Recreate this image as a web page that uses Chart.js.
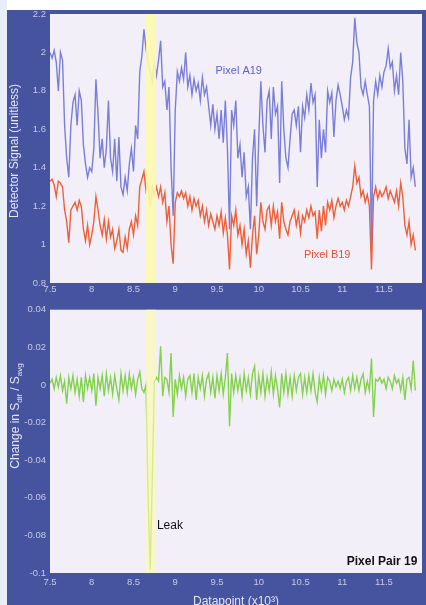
<!DOCTYPE html>
<html>
<head>
<meta charset="utf-8">
<script src="https://cdn.jsdelivr.net/npm/chart.js@4.4.1/dist/chart.umd.min.js"></script>
<style>
  html, body { margin: 0; padding: 0; background: #fff; }
  body { width: 426px; height: 605px; position: relative; overflow: hidden; }
  #edge { position: absolute; left: 0; top: 0; width: 7px; height: 605px; background: #e8eef8; }
  #frame { position: absolute; left: 7px; top: 10px; width: 419px; height: 595px; background: #46539f; }
  canvas { position: absolute; left: 0; }
  #topChart { top: 0; }
  #bottomChart { top: 300px; }
</style>
</head>
<body>
<div id="edge"></div>
<div id="frame"></div>
<canvas id="topChart" width="426" height="300"></canvas>
<canvas id="bottomChart" width="426" height="305"></canvas>
<script>
// datapoint number, in thousands
const DATAPOINTS = [
  7.5,7.525,7.55,7.575,7.6,7.625,7.65,7.675,
  7.7,7.725,7.75,7.775,7.8,7.825,7.85,7.875,
  7.9,7.925,7.95,7.975,8,8.025,8.05,8.075,
  8.1,8.125,8.15,8.175,8.2,8.225,8.25,8.275,
  8.3,8.325,8.35,8.375,8.4,8.425,8.45,8.475,
  8.5,8.525,8.55,8.575,8.6,8.625,8.65,8.675,
  8.7,8.725,8.75,8.775,8.8,8.825,8.85,8.875,
  8.9,8.925,8.95,8.975,9,9.025,9.05,9.075,
  9.1,9.125,9.15,9.175,9.2,9.225,9.25,9.275,
  9.3,9.325,9.35,9.375,9.4,9.425,9.45,9.475,
  9.5,9.525,9.55,9.575,9.6,9.625,9.65,9.675,
  9.7,9.725,9.75,9.775,9.8,9.825,9.85,9.875,
  9.9,9.925,9.95,9.975,10,10.025,10.05,10.075,
  10.1,10.125,10.15,10.175,10.2,10.225,10.25,10.275,
  10.3,10.325,10.35,10.375,10.4,10.425,10.45,10.475,
  10.5,10.525,10.55,10.575,10.6,10.625,10.65,10.675,
  10.7,10.725,10.75,10.775,10.8,10.825,10.85,10.875,
  10.9,10.925,10.95,10.975,11,11.025,11.05,11.075,
  11.1,11.125,11.15,11.175,11.2,11.225,11.25,11.275,
  11.3,11.325,11.35,11.375,11.4,11.425,11.45,11.475,
  11.5,11.525,11.55,11.575,11.6,11.625,11.65,11.675,
  11.7,11.725,11.75,11.775,11.8,11.825,11.85,11.875
];

const PIXEL_A19 = [
  2.0,1.97,2.01,1.95,1.8,2.0,1.96,1.62,
  1.45,1.35,1.62,1.74,1.78,1.62,1.8,1.75,
  1.52,1.42,1.35,1.4,1.38,1.5,1.86,1.68,
  1.45,1.55,1.4,1.5,1.75,1.45,1.38,1.55,
  1.33,1.56,1.3,1.26,1.35,1.28,1.42,1.5,
  1.38,1.62,1.55,1.9,1.98,2.12,2.02,1.95,
  1.9,1.85,1.95,1.88,1.96,2.06,1.82,1.85,
  1.7,1.82,1.4,1.15,1.7,1.9,1.85,1.92,
  1.86,2.0,1.82,1.88,1.78,1.86,1.8,1.84,
  1.75,1.87,1.78,1.82,1.72,1.62,1.73,1.6,
  1.68,1.55,1.7,1.53,1.75,1.5,1.08,1.7,
  1.62,1.75,1.45,1.52,1.35,1.48,1.25,1.3,
  1.08,1.45,1.6,1.2,1.55,1.85,1.62,1.48,
  1.75,1.8,1.55,1.82,1.68,1.72,1.32,1.85,
  1.6,1.45,1.4,1.55,1.68,1.7,1.62,1.72,
  1.48,1.72,1.66,1.78,1.7,1.84,1.74,1.78,
  1.3,1.65,1.45,1.6,1.48,1.8,1.74,1.79,
  1.56,1.75,1.83,1.78,1.72,1.65,1.7,1.66,
  1.87,1.95,2.18,2.05,2.0,1.82,1.78,1.85,
  1.78,1.72,1.0,1.75,1.85,1.78,1.88,1.82,
  1.9,1.93,2.02,1.92,1.95,1.8,1.88,1.78,
  2.0,1.85,1.5,1.42,1.65,1.35,1.4,1.3
];

const PIXEL_B19 = [
  1.33,1.34,1.31,1.25,1.33,1.32,1.3,1.18,
  1.12,1.01,1.18,1.2,1.22,1.18,1.23,1.2,
  1.08,1.02,1.1,1.0,1.05,1.12,1.25,1.18,
  1.1,1.05,1.13,1.03,1.12,1.04,1.08,0.98,
  1.02,1.08,0.97,0.96,1.04,0.98,1.08,1.12,
  1.05,1.15,1.1,1.3,1.34,1.38,1.28,1.32,
  1.2,1.3,1.26,1.3,1.25,1.3,1.22,1.27,
  1.12,1.2,1.0,0.9,1.22,1.27,1.25,1.28,
  1.24,1.27,1.2,1.25,1.18,1.24,1.2,1.23,
  1.15,1.2,1.12,1.18,1.1,1.16,1.12,1.08,
  1.15,1.1,1.17,1.06,1.14,1.05,0.87,1.15,
  1.1,1.18,1.05,1.1,1.0,1.08,0.95,1.02,
  0.88,1.05,1.15,0.95,1.05,1.22,1.12,1.08,
  1.18,1.2,1.1,1.2,1.12,1.17,1.03,1.22,
  1.12,1.08,1.05,1.12,1.15,1.18,1.1,1.16,
  1.06,1.15,1.12,1.18,1.14,1.2,1.15,1.17,
  1.03,1.18,1.07,1.2,1.1,1.22,1.18,1.23,
  1.14,1.2,1.24,1.2,1.22,1.18,1.23,1.2,
  1.25,1.3,1.41,1.32,1.35,1.25,1.28,1.22,
  1.26,1.2,0.87,1.25,1.3,1.24,1.28,1.25,
  1.27,1.3,1.24,1.28,1.25,1.22,1.28,1.2,
  1.32,1.25,1.1,1.05,1.12,1.0,1.05,0.97
];

// change in S_dif / S_avg for pixel pair 19
const PAIR_19_CHANGE = [
  0.001,0.003,-0.002,0.004,-0.001,0.005,-0.003,0.002,
  -0.01,0.004,-0.002,0.005,-0.004,0.003,-0.006,0.004,
  -0.009,0.005,-0.002,0.004,-0.003,0.006,-0.011,0.004,
  -0.002,0.005,-0.006,0.006,-0.003,0.004,-0.005,0.005,
  -0.002,-0.008,0.006,-0.003,0.005,-0.004,0.006,-0.002,
  0.004,-0.005,0.003,0.007,-0.002,-0.004,0.0,-0.06,
  -0.098,-0.05,0.002,0.004,0.002,0.0205,-0.006,0.004,
  0.003,-0.004,0.017,-0.017,0.003,-0.005,0.005,-0.002,
  0.004,-0.006,0.003,0.005,-0.004,0.006,-0.008,0.004,
  -0.002,0.005,-0.006,0.003,0.006,-0.004,0.004,-0.007,
  0.005,-0.003,0.006,-0.005,0.004,0.017,-0.022,0.006,
  -0.004,0.005,-0.003,0.004,-0.006,0.006,-0.003,0.004,
  -0.005,0.006,0.01,-0.008,0.005,-0.004,0.006,-0.006,
  0.004,-0.003,0.007,-0.005,0.005,-0.002,-0.012,0.006,
  -0.004,0.006,-0.005,0.004,-0.006,0.005,-0.003,0.004,
  0.006,-0.005,0.004,-0.004,0.005,-0.003,0.006,-0.004,
  -0.009,0.004,-0.003,0.005,-0.005,0.004,0.002,-0.003,
  0.003,-0.001,0.002,-0.002,0.003,-0.004,0.002,0.004,
  -0.003,0.005,-0.002,0.004,-0.003,0.003,0.006,-0.004,
  0.002,-0.003,0.014,-0.017,0.003,0.002,0.004,0.001,
  0.003,-0.002,0.004,0.002,-0.002,0.005,0.001,0.003,
  -0.003,0.004,-0.008,0.003,0.004,-0.002,0.013,-0.003
];

const X_TICKS = [7.5, 8, 8.5, 9, 9.5, 10, 10.5, 11, 11.5];
const SIGNAL_TICKS = [0.8, 1, 1.2, 1.4, 1.6, 1.8, 2, 2.2];
const CHANGE_TICKS = [-0.1, -0.08, -0.06, -0.04, -0.02, 0, 0.02, 0.04];
const LEAK_RANGE = [8.65, 8.77];

const FONT = "Arial, 'Liberation Sans', sans-serif";
const TICK_COLOR = '#c6c9e6';
const TITLE_COLOR = '#e4e6f4';

const toXY = ys => DATAPOINTS.map((x, i) => ({ x: x, y: ys[i] }));
const fmt = v => String(Number(v.toFixed(3)));

// light plot background inside the chart area
const plotBg = {
    id: 'plotBg',
    beforeDraw(chart) {
        const a = chart.chartArea;
        const ctx = chart.ctx;
        ctx.save();
        ctx.fillStyle = '#f3eff9';
        ctx.fillRect(a.left, a.top, a.right - a.left, a.bottom - a.top);
        ctx.restore();
    }
};

// yellow stripe marking the leak
const leakBand = {
    id: 'leakBand',
    afterDatasetsDraw(chart, args, opts) {
        const a = chart.chartArea;
        const x = chart.scales.x;
        const x0 = x.getPixelForValue(LEAK_RANGE[0]);
        const x1 = x.getPixelForValue(LEAK_RANGE[1]);
        const ctx = chart.ctx;
        ctx.save();
        ctx.fillStyle = 'rgba(252, 250, 172, ' + opts.alpha + ')';
        ctx.fillRect(x0, a.top, x1 - x0, a.bottom - a.top);
        ctx.restore();
    }
};

// text notes in data coordinates, plus axis titles
const notes = {
    id: 'notes',
    afterDraw(chart, args, opts) {
        const ctx = chart.ctx;
        const sx = chart.scales.x, sy = chart.scales.y;
        ctx.save();
        (opts.items || []).forEach(n => {
            ctx.font = n.font;
            ctx.fillStyle = n.color;
            ctx.textAlign = n.align || 'left';
            ctx.textBaseline = 'middle';
            ctx.fillText(n.text, sx.getPixelForValue(n.x), sy.getPixelForValue(n.y));
        });
        // rotated y title, parts may be subscripts
        if (opts.yTitle) {
            const t = opts.yTitle;
            ctx.translate(t.cx, t.cy);
            ctx.rotate(-Math.PI / 2);
            ctx.fillStyle = TITLE_COLOR;
            ctx.textBaseline = 'middle';
            ctx.textAlign = 'left';
            let total = 0;
            t.parts.forEach(p => {
                ctx.font = (p.sub ? 8 : 12) + 'px ' + FONT;
                total += ctx.measureText(p.text).width;
            });
            let pos = -total / 2;
            t.parts.forEach(p => {
                ctx.font = (p.sub ? 8 : 12) + 'px ' + FONT;
                ctx.fillText(p.text, pos, p.sub ? 3.5 : 0);
                pos += ctx.measureText(p.text).width;
            });
        }
        ctx.restore();
        if (opts.xTitle) {
            ctx.save();
            ctx.font = '12px ' + FONT;
            ctx.fillStyle = TITLE_COLOR;
            ctx.textAlign = 'center';
            ctx.textBaseline = 'middle';
            ctx.fillText(opts.xTitle.text, opts.xTitle.cx, opts.xTitle.cy);
            ctx.restore();
        }
    }
};

function xScale(height, pad) {
    return {
        type: 'linear',
        min: 7.5,
        max: 11.955,
        afterBuildTicks: s => { s.ticks = X_TICKS.map(v => ({ value: v })); },
        afterFit: s => { s.height = height; },
        grid: { display: false, drawTicks: false },
        border: { display: false },
        ticks: {
            color: TICK_COLOR,
            font: { family: FONT, size: 9.5 },
            padding: pad,
            maxRotation: 0,
            autoSkip: false,
            callback: v => fmt(v)
        }
    };
}

function yScale(min, max, tickList) {
    return {
        type: 'linear',
        min: min,
        max: max,
        afterBuildTicks: s => { s.ticks = tickList.map(v => ({ value: v })); },
        afterFit: s => { s.width = 42; },
        grid: { display: false, drawTicks: false },
        border: { display: false },
        ticks: {
            color: TICK_COLOR,
            font: { family: FONT, size: 9.5 },
            padding: 4,
            autoSkip: false,
            callback: v => fmt(v)
        }
    };
}

function lineSet(label, ys, color) {
    return {
        label: label,
        data: toXY(ys),
        borderColor: color,
        borderWidth: 1.4,
        pointRadius: 0,
        tension: 0,
        fill: false
    };
}

new Chart(document.getElementById('topChart'), {
    type: 'line',
    data: {
        datasets: [
            lineSet('Pixel A19', PIXEL_A19, '#7b7ed9'),
            lineSet('Pixel B19', PIXEL_B19, '#ef5f38')
        ]
    },
    options: {
        responsive: false,
        animation: false,
        layout: { padding: { left: 8, top: 14, right: 4, bottom: 0 } },
        scales: {
            x: xScale(17, 1),
            y: yScale(0.8, 2.2, SIGNAL_TICKS)
        },
        plugins: {
            legend: { display: false },
            tooltip: { enabled: false },
            leakBand: { alpha: 0.9 },
            notes: {
                items: [
                    { text: 'Pixel A19', x: 9.76, y: 1.904, color: '#5c60cf', font: '11px ' + FONT, align: 'center' },
                    { text: 'Pixel B19', x: 10.82, y: 0.948, color: '#e8502e', font: '11px ' + FONT, align: 'center' }
                ],
                yTitle: { cx: 15, cy: 151, parts: [{ text: 'Detector Signal (unitless)' }] }
            }
        }
    },
    plugins: [plotBg, leakBand, notes]
});

new Chart(document.getElementById('bottomChart'), {
    type: 'line',
    data: {
        datasets: [
            lineSet('Pixel Pair 19', PAIR_19_CHANGE, '#84d24c')
        ]
    },
    options: {
        responsive: false,
        animation: false,
        layout: { padding: { left: 8, top: 5, right: 4, bottom: 0 } },
        scales: {
            x: xScale(32, 4),
            y: yScale(-0.1, 0.04, CHANGE_TICKS)
        },
        plugins: {
            legend: { display: false },
            tooltip: { enabled: false },
            leakBand: { alpha: 0.65 },
            notes: {
                items: [
                    { text: 'Leak', x: 8.78, y: -0.0747, color: '#111', font: '12px ' + FONT, align: 'left' },
                    { text: 'Pixel Pair 19', x: 11.9, y: -0.094, color: '#111', font: 'bold 12px ' + FONT, align: 'right' }
                ],
                yTitle: {
                    cx: 16, cy: 116,
                    parts: [
                        { text: 'Change in S' }, { text: 'dif', sub: true },
                        { text: ' / S' }, { text: 'avg', sub: true }
                    ]
                },
                xTitle: { text: 'Datapoint (x10\u00b3)', cx: 236, cy: 302 }
            }
        }
    },
    plugins: [plotBg, leakBand, notes]
});
</script>
</body>
</html>
